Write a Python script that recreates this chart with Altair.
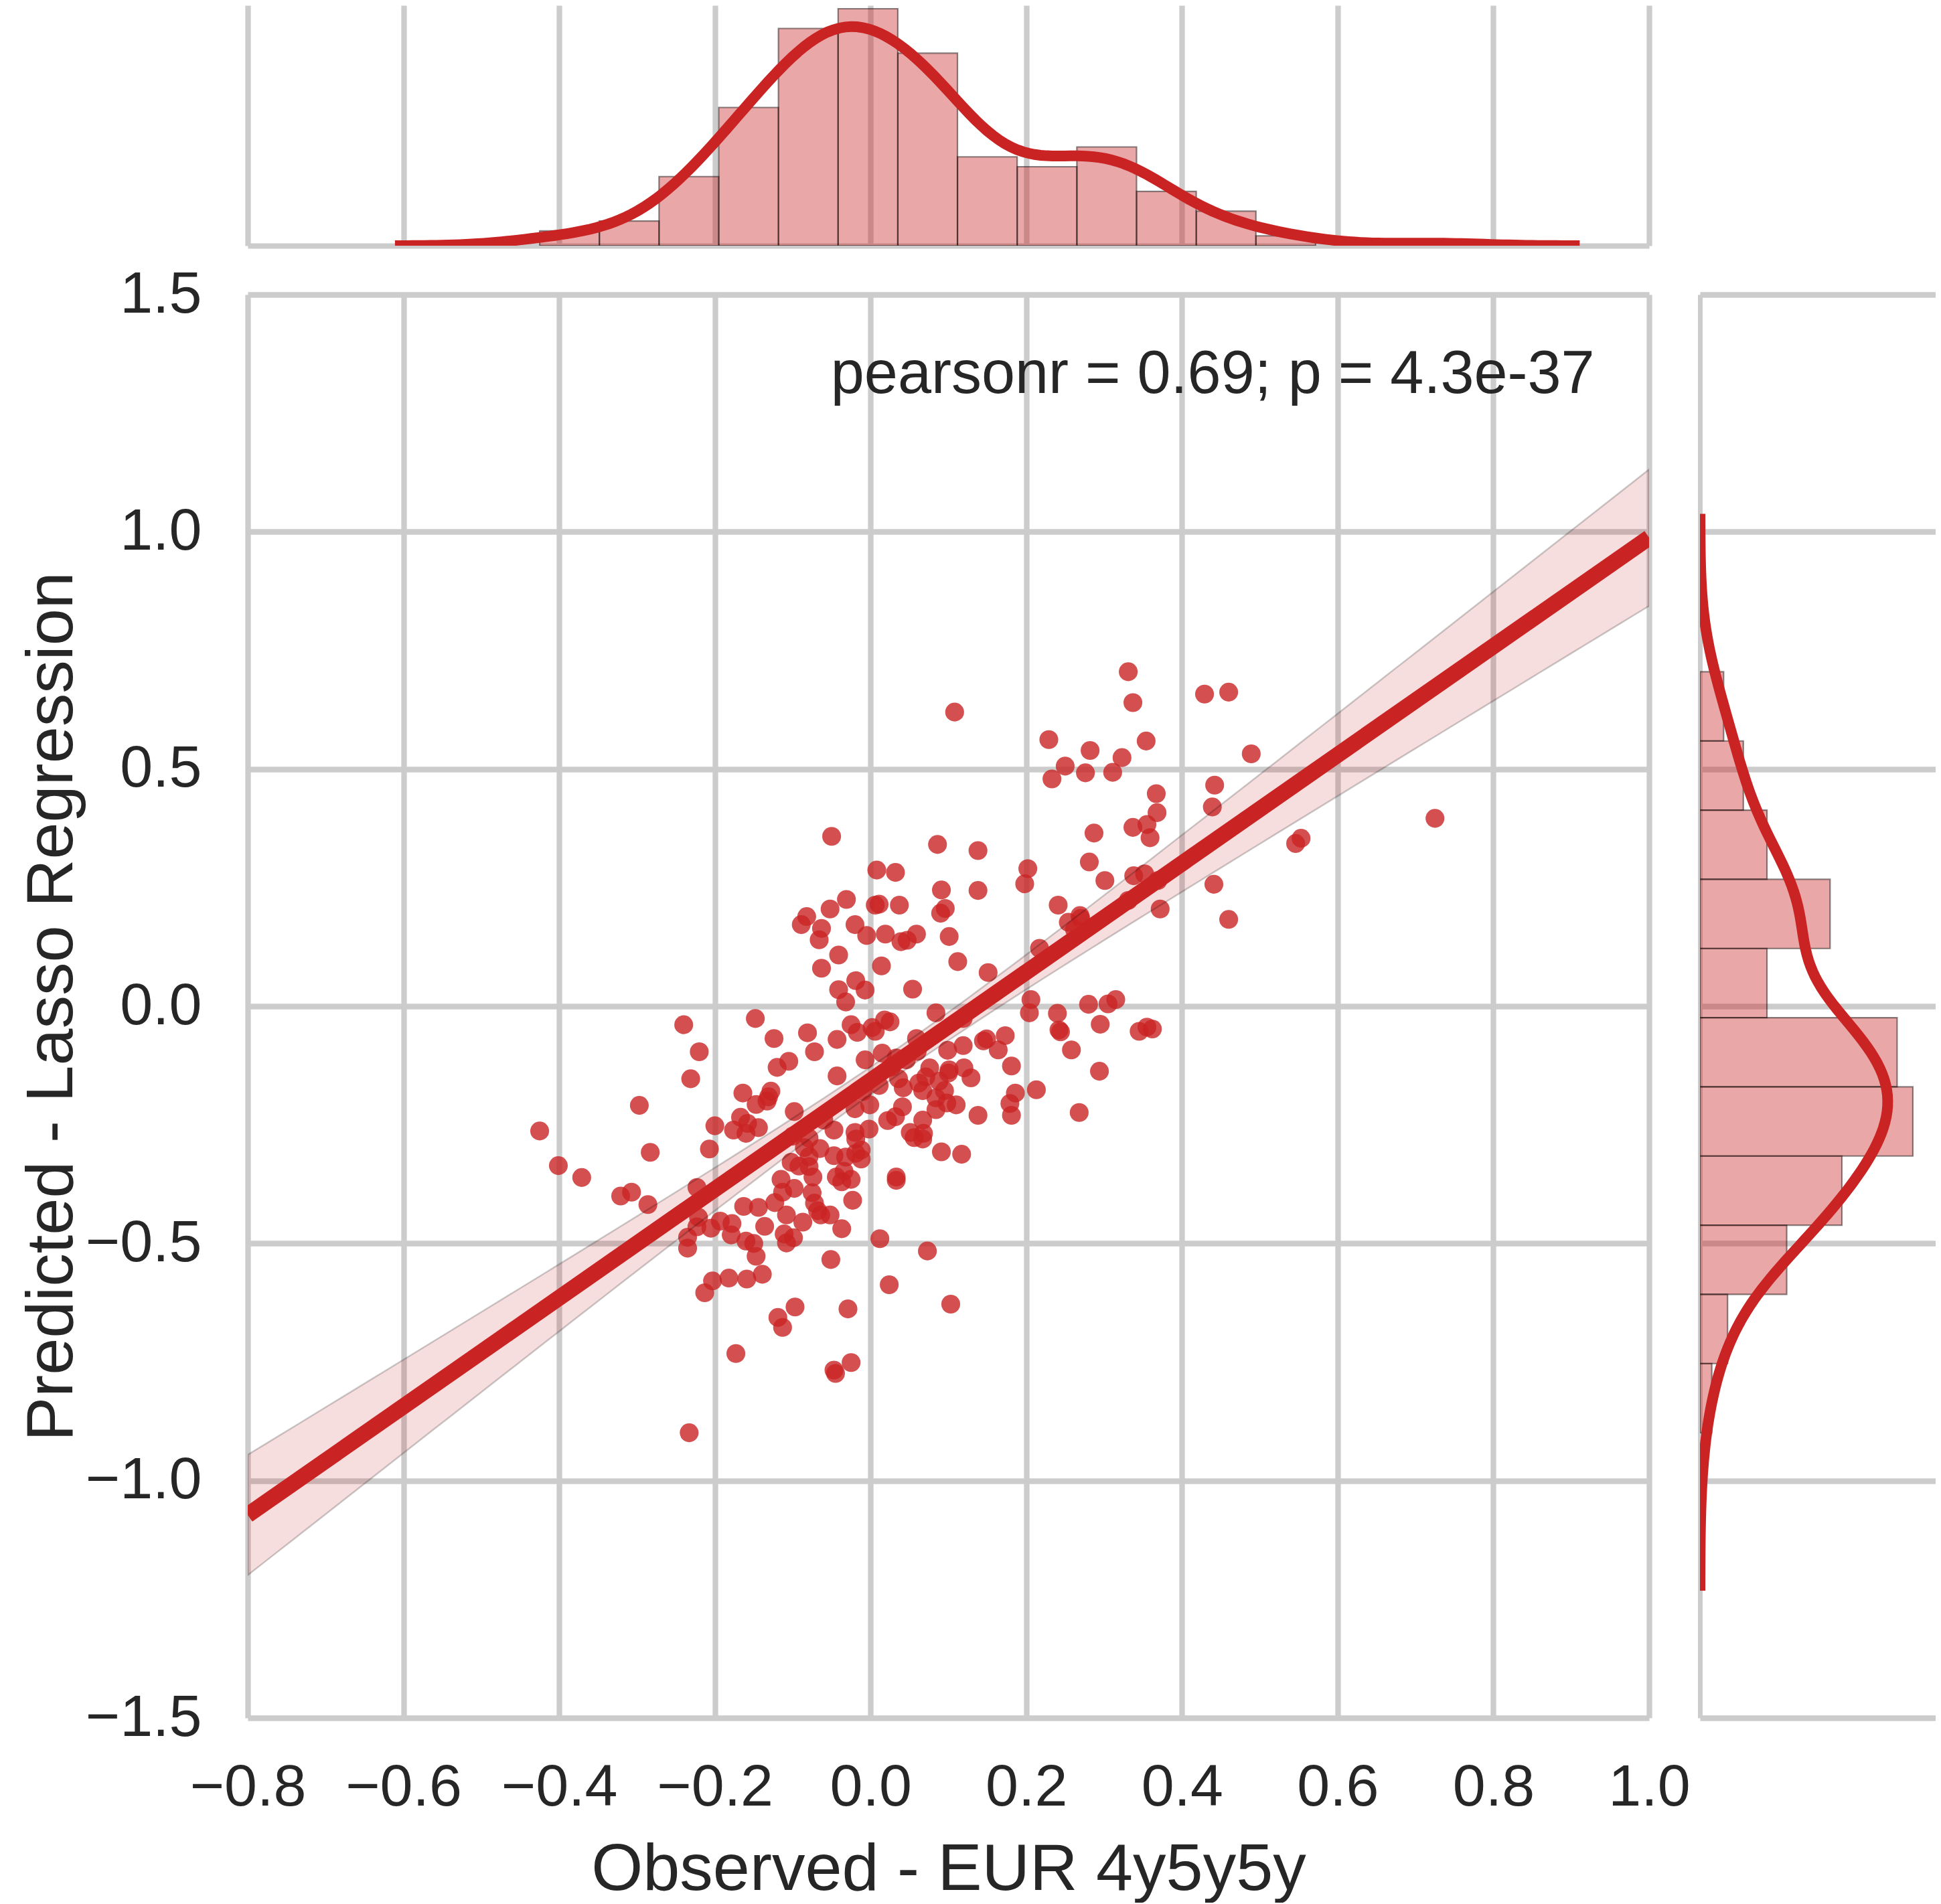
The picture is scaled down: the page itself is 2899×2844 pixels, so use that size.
import numpy as np
import pandas as pd
import altair as alt

# ---------------- data ----------------
obs = [0.331, 0.337, 0.429, 0.460, 0.108, 0.229, 0.354, 0.489, 0.282, 0.323,
       0.250, 0.233, 0.276, 0.311, 0.367, 0.442, 0.368, 0.439, 0.337, 0.355,
       0.359, 0.725, 0.546, 0.553, 0.287, -0.050, 0.086, 0.138, 0.281, 0.008,
       0.032, 0.202, 0.198, 0.301, 0.338, 0.352, 0.369, 0.441, 0.372, 0.460,
       0.091, 0.138, -0.031, -0.052, 0.006, 0.011, 0.037, 0.096, 0.090, 0.241,
       0.269, 0.254, 0.331, -0.020, -0.005, 0.019, 0.039, 0.047, 0.059, 0.101,
       -0.082, -0.089, -0.063, -0.066, 0.217, -0.041, -0.063, 0.014, 0.112, 0.151,
       -0.019, -0.007, -0.041, -0.032, 0.054, 0.206, 0.280, 0.305, 0.315, 0.204,
       0.084, 0.119, 0.240, 0.244, 0.295, 0.345, 0.355, 0.258, -0.043, -0.025,
       -0.017, 0.006, 0.018, 0.025, 0.059, 0.099, 0.119, 0.145, 0.149, 0.173,
       0.164, -0.148, -0.124, -0.081, -0.072, -0.240, -0.220, 0.015, 0.294, -0.043,
       -0.007, 0.033, 0.046, 0.011, 0.036, 0.042, 0.076, 0.181, 0.101, 0.120,
       0.062, 0.088, 0.186, 0.213, -0.105, -0.120, -0.231, -0.164, -0.128, -0.001,
       -0.020, 0.041, 0.032, 0.022, 0.084, 0.098, 0.110, 0.138, 0.179, 0.181,
       0.268, -0.002, -0.047, -0.020, 0.051, 0.068, -0.297, -0.147, -0.133, -0.098,
       -0.167, -0.158, -0.200, -0.176, -0.144, -0.425, -0.019, 0.056, 0.067, -0.079,
       -0.401, -0.371, -0.283, -0.321, -0.307, -0.207, -0.223, 0.091, 0.117, -0.047,
       -0.032, -0.012, -0.012, -0.034, -0.044, -0.025, -0.037, 0.033, 0.033, -0.079,
       -0.079, -0.075, -0.098, -0.123, -0.113, -0.023, -0.052, -0.037, 0.012, 0.073,
       -0.051, 0.024, -0.029, 0.103, -0.025, -0.045, -0.047, -0.286, -0.163, -0.144,
       -0.111, -0.108, -0.099, -0.136, -0.179, -0.147, -0.139, -0.182, -0.159, -0.203,
       -0.213, -0.235, -0.235, -0.097, -0.119, -0.113, -0.173, -0.233,
       -0.221, -0.223, -0.205, -0.193, -0.178, -0.160, -0.150, -0.131, -0.160,
       -0.108, -0.087, -0.064, -0.092, -0.074, -0.072, -0.068, -0.100, -0.085,
       -0.102, -0.065, -0.115, -0.060, -0.019, 0.027, 0.002, -0.010,
       0.067, 0.084, 0.067, 0.095, 0.071, 0.100, 0.060, 0.129, 0.262, 0.242,
       0.270, 0.362]

pred = [0.705, 0.640, 0.658, 0.662, 0.620, 0.562, 0.559, 0.532, 0.539, 0.524,
        0.506, 0.479, 0.492, 0.493, 0.448, 0.466, 0.408, 0.420, 0.377, 0.383,
        0.355, 0.396, 0.343, 0.354, 0.365, 0.358, 0.341, 0.328, 0.304, 0.287,
        0.282, 0.290, 0.258, 0.265, 0.275, 0.279, 0.265, 0.257, 0.205, 0.183,
        0.245, 0.244, 0.225, 0.205, 0.213, 0.215, 0.213, 0.206, 0.196, 0.213,
        0.191, 0.177, 0.223, 0.172, 0.149, 0.152, 0.136, 0.139, 0.152, 0.147,
        0.189, 0.172, 0.164, 0.140, 0.122, 0.108, 0.080, 0.085, 0.094, 0.071,
        0.054, 0.034, 0.035, 0.009, 0.036, 0.014, 0.004, 0.005, 0.014, -0.014,
        -0.014, -0.026, -0.015, -0.054, -0.038, -0.053, -0.044, -0.092, -0.070, -0.039,
        -0.055, -0.053, -0.029, -0.033, -0.068, -0.093, -0.083, -0.073, -0.069, -0.062,
        -0.092, -0.026, -0.068, -0.056, -0.096, -0.039, -0.096, -0.099, -0.137, -0.147,
        -0.113, -0.109, -0.113, -0.167, -0.153, -0.172, -0.130, -0.126, -0.134, -0.130,
        -0.162, -0.158, -0.183, -0.176, -0.116, -0.129, -0.153, -0.183, -0.179, -0.208,
        -0.216, -0.212, -0.233, -0.241, -0.218, -0.204, -0.208, -0.230, -0.205, -0.230,
        -0.224, -0.259, -0.261, -0.266, -0.266, -0.268, -0.209, -0.207, -0.200, -0.222,
        -0.234, -0.247, -0.252, -0.261, -0.256, -0.263, -0.280, -0.277, -0.280, -0.278,
        -0.336, -0.361, -0.308, -0.400, -0.392, -0.301, -0.382, -0.307, -0.312, -0.315,
        -0.318, -0.303, -0.322, -0.348, -0.360, -0.365, -0.370, -0.360, -0.367, -0.317,
        -0.338, -0.393, -0.384, -0.414, -0.392, -0.409, -0.440, -0.469, -0.490, -0.516,
        -0.534, -0.587, -0.638, -0.628, -0.751, -0.774, -0.767, -0.418, -0.422, -0.424,
        -0.480, -0.499, -0.488, -0.464, -0.482, -0.527, -0.565, -0.573, -0.575, -0.579,
        -0.604, -0.487, -0.510, -0.634, -0.656, -0.677, -0.732, -0.899,
        -0.445, -0.465, -0.468, -0.453, -0.458, -0.495, -0.500, -0.191, -0.268,
        -0.440, -0.455, -0.440, -0.337, -0.360, -0.415, -0.431, -0.274, -0.298,
        -0.329, -0.300, -0.365, -0.240, -0.310, -0.128, -0.045, -0.180,
        -0.240, -0.193, -0.178, -0.178, -0.149, -0.141, -0.095, -0.151, 0.162, -0.050,
        0.185, -0.048]

x_ticks = [-0.8, -0.6, -0.4, -0.2, 0.0, 0.2, 0.4, 0.6, 0.8, 1.0]
y_ticks = [-1.5, -1.0, -0.5, 0.0, 0.5, 1.0, 1.5]
x_label = "Observed - EUR 4y5y5y"
y_label = "Predicted - Lasso Regression"
annot = ["pearsonr = 0.69; p = 4.3e-37"]
annot_x = [0.93]
annot_y = [1.293]
n_xbins = 15
n_ybins = 11

# ---------------- derived quantities ----------------
x = np.array(obs)
y = np.array(pred)
N = len(x)
df = pd.DataFrame({"x": x, "y": y})

def scott_bw(a):
    q75, q25 = np.percentile(a, [75, 25])
    A = min(np.std(a, ddof=1), (q75 - q25) / 1.349)
    return 1.059 * A * len(a) ** (-0.2)

bwx, bwy = scott_bw(x), scott_bw(y)
xstep = (x.max() - x.min()) / n_xbins
ystep = (y.max() - y.min()) / n_ybins
xmaxd = np.histogram(x, bins=n_xbins)[0].max() / (N * xstep)
ymaxd = np.histogram(y, bins=n_ybins)[0].max() / (N * ystep)

# OLS confidence band (95%)
xm, ym = x.mean(), y.mean()
Sxx = ((x - xm) ** 2).sum()
b1 = ((x - xm) * (y - ym)).sum() / Sxx
b0 = ym - b1 * xm
s = np.sqrt(((y - b0 - b1 * x) ** 2).sum() / (N - 2))
gx = np.linspace(-0.8, 1.0, 91)
se = s * np.sqrt(1.0 / N + (gx - xm) ** 2 / Sxx)
band = pd.DataFrame({"gx": gx, "lo": b0 + b1 * gx - 1.97 * se, "hi": b0 + b1 * gx + 1.97 * se})

RED = "#C92323"
TXT = "#262626"
GRID = "#cccccc"
FONT = "Liberation Sans"
GW = 8.3

W, H = 2093, 2126
TOPH, RIGHTW = 359, 352

xscale = alt.Scale(domain=[-0.8, 1.0], nice=False, zero=False)
yscale = alt.Scale(domain=[-1.5, 1.5], nice=False, zero=False)

# ---------------- main joint panel ----------------
xaxis_main = alt.Axis(values=x_ticks, format=".1f", labelFontSize=88, labelFont=FONT,
                      labelColor=TXT, labelPadding=60, ticks=False, tickSize=0, domain=False,
                      grid=True, gridColor=GRID, gridWidth=GW, labelFlush=False,
                      labelOverlap=False, title=x_label, titleFont=FONT, titleFontSize=99,
                      titleFontWeight="normal", titleColor=TXT, titlePadding=30)
yaxis_main = alt.Axis(values=y_ticks, format=".1f", labelFontSize=88, labelFont=FONT,
                      labelColor=TXT, labelPadding=69, ticks=False, tickSize=0, domain=False,
                      grid=True, gridColor=GRID, gridWidth=GW, labelFlush=False,
                      labelOverlap=False, title=y_label, titleFont=FONT, titleFontSize=99,
                      titleFontWeight="normal", titleColor=TXT, titlePadding=42)

base = alt.Chart(df)
pts = base.mark_circle(size=790, opacity=0.8, color=RED, clip=True).encode(
    x=alt.X("x:Q", scale=xscale, axis=xaxis_main),
    y=alt.Y("y:Q", scale=yscale, axis=yaxis_main),
)
band_m = alt.Chart(band).mark_area(fill=RED, fillOpacity=0.15, stroke="black",
                                   strokeOpacity=0.2, strokeWidth=2.5, clip=True).encode(
    x=alt.X("gx:Q", scale=xscale), y=alt.Y("lo:Q", scale=yscale), y2="hi:Q")
reg = base.transform_regression("x", "y", extent=[-0.8, 1.0]).mark_line(
    color=RED, strokeWidth=24, clip=True).encode(
    x=alt.X("x:Q", scale=xscale), y=alt.Y("y:Q", scale=yscale))
txt = alt.Chart(pd.DataFrame({"t": annot, "ax": annot_x, "ay": annot_y})).mark_text(
    align="right", baseline="alphabetic", font=FONT, fontSize=90, color=TXT).encode(
    x=alt.X("ax:Q", scale=xscale), y=alt.Y("ay:Q", scale=yscale), text="t:N")

main = alt.layer(pts, band_m, reg, txt).properties(width=W, height=H)

# ---------------- top marginal ----------------
tscale = alt.Scale(domain=[0, xmaxd * TOPH / 354.0], nice=False, zero=True)
xaxis_top = alt.Axis(values=x_ticks, labels=False, ticks=False, tickSize=0, domain=True,
                     domainColor=GRID, domainWidth=8, grid=True, gridColor=GRID,
                     gridWidth=GW, title=None)
top_bars = base.transform_bin(["xb0", "xb1"], "x", bin=alt.Bin(
    extent=[float(x.min()), float(x.max())], step=float(xstep), nice=False)).transform_aggregate(
    xn="count()", groupby=["xb0", "xb1"]).transform_calculate(
    xdens=f"datum.xn / ({N} * {xstep})").mark_rect(
    fill=RED, fillOpacity=0.4, stroke="black", strokeOpacity=0.45, strokeWidth=2.2,
    clip=True).encode(
    x=alt.X("xb0:Q", scale=xscale, axis=xaxis_top), x2="xb1:Q",
    y=alt.Y("xdens:Q", scale=tscale, axis=None), y2=alt.datum(0))
top_kde = base.transform_density("x", as_=["xv", "xk"], bandwidth=float(bwx),
                                 extent=[float(x.min() - 3 * bwx), float(x.max() + 3 * bwx)],
                                 steps=200).mark_line(color=RED, strokeWidth=16, clip=True).encode(
    x=alt.X("xv:Q", scale=xscale), y=alt.Y("xk:Q", scale=tscale))
top = alt.layer(top_bars, top_kde).properties(width=W, height=TOPH)

# ---------------- right marginal ----------------
rscale = alt.Scale(domain=[0, ymaxd * RIGHTW / 318.0], nice=False, zero=True)
yaxis_right = alt.Axis(values=y_ticks, labels=False, ticks=False, tickSize=0, domain=True,
                       domainColor=GRID, domainWidth=7, grid=True, gridColor=GRID,
                       gridWidth=GW, title=None)
right_bars = base.transform_bin(["yb0", "yb1"], "y", bin=alt.Bin(
    extent=[float(y.min()), float(y.max())], step=float(ystep), nice=False)).transform_aggregate(
    yn="count()", groupby=["yb0", "yb1"]).transform_calculate(
    ydens=f"datum.yn / ({N} * {ystep})").mark_rect(
    fill=RED, fillOpacity=0.4, stroke="black", strokeOpacity=0.45, strokeWidth=2.2,
    clip=True).encode(
    y=alt.Y("yb0:Q", scale=yscale, axis=yaxis_right), y2="yb1:Q",
    x=alt.X("ydens:Q", scale=rscale, axis=None), x2=alt.datum(0))
right_kde = base.transform_density("y", as_=["yv", "yk"], bandwidth=float(bwy),
                                   extent=[float(y.min() - 3 * bwy), float(y.max() + 3 * bwy)],
                                   steps=200).mark_line(color=RED, strokeWidth=16, clip=True).encode(
    y=alt.Y("yv:Q", scale=yscale), x=alt.X("yk:Q", scale=rscale), order="yv:Q")
right = alt.layer(right_bars, right_kde).properties(width=RIGHTW, height=H)

# ---------------- empty corner ----------------
spacer = alt.Chart(pd.DataFrame({"a": [0]})).mark_point(opacity=0).encode(
    x=alt.X("a:Q", axis=None), y=alt.Y("a:Q", axis=None)).properties(width=RIGHTW, height=TOPH)

chart = alt.concat(top, spacer, main, right, columns=2, align="each", bounds="flush",
                   spacing={"row": 73, "column": 76}).properties(
    padding={"left": 20, "top": 0, "right": 0, "bottom": 0}, background="white"
).configure_view(stroke="transparent", strokeWidth=0)

chart.save("out.html", embed_options={"renderer": "svg", "actions": False})
